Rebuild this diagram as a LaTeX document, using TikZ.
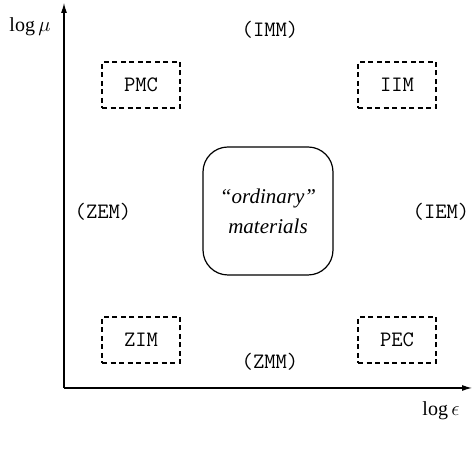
\documentclass[tikz,border=0pt]{standalone}
\usepackage{fontspec}
\setmainfont{Liberation Serif}
\usetikzlibrary{arrows.meta}
\begin{document}
\begin{tikzpicture}[x=1pt,y=1pt,
  axis/.style={line width=1.1pt,-{Latex[length=10pt,width=6pt]}},
  regime/.style={draw,line width=1.3pt,dash pattern=on 5pt off 3.5pt,minimum width=78pt,minimum height=46pt,font=\ttfamily\fontsize{22}{24}\selectfont},
  lbl/.style={font=\ttfamily\fontsize{22}{24}\selectfont},
  ax/.style={font=\fontsize{20}{24}\selectfont}]
\useasboundingbox (0,0) rectangle (475,449);
\coordinate (O) at (64,61);
\coordinate (Ytip) at (64,446);
\coordinate (Xtip) at (472,61);
\draw[axis] (O) -- (Ytip);
\draw[axis] (O) -- (Xtip);
\node[ax] (ylab) at (30,422) {log\,$\mu$};
\node[ax] (xlab) at (441,38) {log\,$\epsilon$};
\node[regime] (pmc) at (141,364) {PMC};
\node[regime] (iim) at (397,364) {IIM};
\node[regime] (zim) at (141,109) {ZIM};
\node[regime] (pec) at (397,109) {PEC};
\node[lbl] (imm) at (270,419) {(IMM)};
\node[lbl] (zmm) at (270,87) {(ZMM)};
\node[lbl] (zem) at (103,237) {(ZEM)};
\node[lbl] (iem) at (441,237) {(IEM)};
\node[draw,line width=1.2pt,rounded corners=25pt,minimum width=130pt,minimum height=128pt,align=center,font=\itshape\fontsize{21}{30}\selectfont] (ord) at (268,238) {“ordinary”\\materials};
\end{tikzpicture}
\end{document}
